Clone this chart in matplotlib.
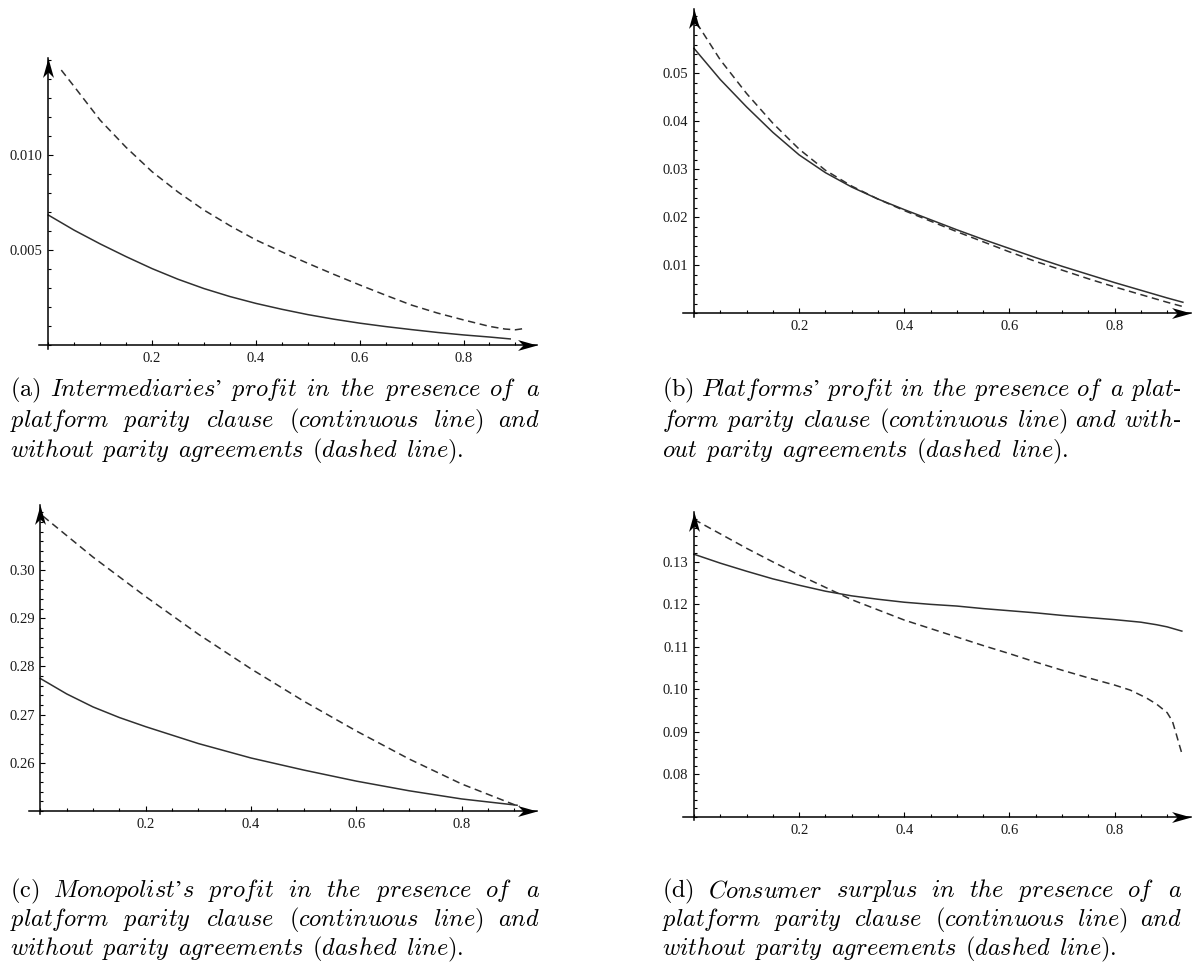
import matplotlib
matplotlib.use("Agg")
import matplotlib.pyplot as plt
from matplotlib.path import Path
from matplotlib.ticker import FixedLocator, FixedFormatter, MultipleLocator

plt.rcParams["mathtext.fontset"] = "cm"

# (a) intermediaries' profit
a_x_par = [0.0, 0.05, 0.1, 0.15, 0.2, 0.25, 0.3, 0.35, 0.4, 0.45, 0.5, 0.55, 0.6, 0.65, 0.7, 0.75, 0.8, 0.85, 0.89]
a_y_par = [0.00684, 0.00604, 0.00532, 0.00465, 0.00402, 0.00346, 0.00297, 0.00255, 0.00219, 0.00188, 0.00160,
           0.00136, 0.00115, 0.00097, 0.00081, 0.00066, 0.00053, 0.00042, 0.00032]
a_x_nopar = [0.025, 0.05, 0.1, 0.15, 0.2, 0.25, 0.3, 0.35, 0.4, 0.45, 0.5, 0.55, 0.6, 0.65, 0.7, 0.75, 0.8, 0.85,
             0.88, 0.9, 0.92]
a_y_nopar = [0.01447, 0.0136, 0.01183, 0.0104, 0.00912, 0.00805, 0.0071, 0.00628, 0.00553, 0.0049, 0.0043,
             0.00372, 0.00316, 0.00262, 0.0021, 0.00168, 0.00132, 0.00098, 0.00084, 0.0008, 0.00088]

# (b) platforms' profit
b_x_par = [0.0, 0.05, 0.1, 0.15, 0.2, 0.25, 0.3, 0.35, 0.4, 0.45, 0.5, 0.55, 0.6, 0.65, 0.7, 0.75, 0.8, 0.85, 0.9, 0.93]
b_y_par = [0.0552, 0.0487, 0.0430, 0.0377, 0.0330, 0.0293, 0.0263, 0.0238, 0.0216, 0.0195, 0.0174, 0.0154,
           0.0135, 0.0116, 0.0098, 0.0081, 0.0064, 0.0048, 0.0032, 0.0023]
b_x_nopar = [0.005, 0.05, 0.1, 0.15, 0.2, 0.25, 0.3, 0.35, 0.4, 0.45, 0.5, 0.55, 0.6, 0.65, 0.7, 0.75, 0.8, 0.85,
             0.9, 0.93]
b_y_nopar = [0.0605, 0.0528, 0.0458, 0.0396, 0.0342, 0.0298, 0.0265, 0.0238, 0.0214, 0.0192, 0.0170, 0.0149,
             0.0128, 0.0108, 0.0090, 0.0072, 0.0055, 0.0039, 0.0023, 0.0014]

# (c) monopolist's profit
c_x_par = [0.0, 0.05, 0.1, 0.15, 0.2, 0.3, 0.4, 0.5, 0.6, 0.7, 0.8, 0.905]
c_y_par = [0.2775, 0.2743, 0.2716, 0.2694, 0.2675, 0.2640, 0.2610, 0.2585, 0.2562, 0.2542, 0.2525, 0.2512]
c_x_nopar = [0.005, 0.1, 0.2, 0.3, 0.4, 0.5, 0.6, 0.7, 0.8, 0.9, 0.91]
c_y_nopar = [0.3112, 0.3027, 0.2945, 0.2867, 0.2795, 0.2728, 0.2666, 0.2608, 0.2556, 0.2513, 0.2510]

# (d) consumer surplus
d_x_par = [0.0, 0.05, 0.1, 0.15, 0.2, 0.25, 0.3, 0.35, 0.4, 0.45, 0.5, 0.55, 0.6, 0.65, 0.7, 0.75, 0.8, 0.85,
           0.88, 0.9, 0.928]
d_y_par = [0.1318, 0.1297, 0.1278, 0.1260, 0.1245, 0.1231, 0.1220, 0.1212, 0.1205, 0.1200, 0.1196, 0.1190,
           0.1185, 0.1180, 0.1174, 0.1169, 0.1164, 0.1158, 0.1152, 0.1147, 0.1137]
d_x_nopar = [0.0, 0.05, 0.1, 0.15, 0.2, 0.25, 0.3, 0.35, 0.4, 0.45, 0.5, 0.55, 0.6, 0.65, 0.7, 0.75, 0.8, 0.83,
             0.86, 0.88, 0.9, 0.91, 0.917, 0.923, 0.928]
d_y_nopar = [0.1400, 0.1366, 0.1332, 0.1300, 0.1269, 0.1240, 0.1211, 0.1187, 0.1163, 0.1143, 0.1123, 0.1103,
             0.1084, 0.1064, 0.1045, 0.1027, 0.1010, 0.0998, 0.0980, 0.0965, 0.0945, 0.0925, 0.0896, 0.0870, 0.0849]

x_ticks = [0.2, 0.4, 0.6, 0.8]
x_ticklabels = ["0.2", "0.4", "0.6", "0.8"]
a_yticks = [0.005, 0.010]
a_yticklabels = ["0.005", "0.010"]
b_yticks = [0.01, 0.02, 0.03, 0.04, 0.05]
b_yticklabels = ["0.01", "0.02", "0.03", "0.04", "0.05"]
c_yticks = [0.26, 0.27, 0.28, 0.29, 0.30]
c_yticklabels = ["0.26", "0.27", "0.28", "0.29", "0.30"]
d_yticks = [0.08, 0.09, 0.10, 0.11, 0.12, 0.13]
d_yticklabels = ["0.08", "0.09", "0.10", "0.11", "0.12", "0.13"]

line2 = ["platform", "parity", "clause", "(continuous", "line)", "and"]
line3 = ["without", "parity", "agreements", "(dashed", "line)."]
a_caption = [["(a)", "Intermediaries’", "profit", "in", "the", "presence", "of", "a"], line2, line3]
b_caption = [["(b)", "Platforms’", "profit", "in", "the", "presence", "of", "a", "plat‐"],
             ["form", "parity", "clause", "(continuous", "line)", "and", "with‐"],
             ["out", "parity", "agreements", "(dashed", "line)."]]
c_caption = [["(c)", "Monopolist’s", "profit", "in", "the", "presence", "of", "a"], line2, line3]
d_caption = [["(d)", "Consumer", "surplus", "in", "the", "presence", "of", "a"], line2, line3]

W, H = 1193, 968
CAP_SIZE = 17.5
CURVE = "#303030"

fig = plt.figure(figsize=(W / 100, H / 100), dpi=100)

right_head = Path([(0, 0), (-1, 0.28), (-0.72, 0), (-1, -0.28), (0, 0)],
                  [Path.MOVETO, Path.LINETO, Path.LINETO, Path.LINETO, Path.CLOSEPOLY])
up_head = Path([(0, 0), (0.28, -1), (0, -0.72), (-0.28, -1), (0, 0)],
               [Path.MOVETO, Path.LINETO, Path.LINETO, Path.LINETO, Path.CLOSEPOLY])


def add_panel(ox, oy, sx, sy, y0, xlim, ylim, yticks, ylabels, yminor):
    # ox, oy: pixel of the origin; sx, sy: pixels per unit
    left = ox + sx * xlim[0]
    right = ox + sx * xlim[1]
    top = oy - sy * (ylim[1] - y0)
    bottom = oy - sy * (ylim[0] - y0)
    ax = fig.add_axes([left / W, 1 - bottom / H, (right - left) / W, (bottom - top) / H])
    ax.set_xlim(xlim)
    ax.set_ylim(ylim)
    ax.patch.set_visible(False)
    for s in ("top", "right"):
        ax.spines[s].set_visible(False)
    ax.spines["left"].set_position(("data", 0))
    ax.spines["bottom"].set_position(("data", y0))
    for s in ("left", "bottom"):
        ax.spines[s].set_linewidth(1.1)
        ax.spines[s].set_color("black")
    ax.xaxis.set_major_locator(FixedLocator(x_ticks))
    ax.xaxis.set_major_formatter(FixedFormatter(x_ticklabels))
    ax.xaxis.set_minor_locator(MultipleLocator(0.05))
    ax.yaxis.set_major_locator(FixedLocator(yticks))
    ax.yaxis.set_major_formatter(FixedFormatter(ylabels))
    ax.yaxis.set_minor_locator(MultipleLocator(yminor))
    ax.tick_params(which="both", direction="in", color="black", width=0.8)
    ax.tick_params(which="major", length=3.8)
    ax.tick_params(which="minor", length=2.0)
    ax.tick_params(axis="x", pad=5)
    ax.tick_params(axis="y", pad=4)
    for lab in ax.get_xticklabels() + ax.get_yticklabels():
        lab.set_fontfamily("Liberation Serif")
        lab.set_fontsize(10.5)
        lab.set_color("#1a1a1a")
    ax.plot([xlim[1]], [y0], marker=right_head, ms=28, color="black", mew=0, clip_on=False, zorder=5)
    ax.plot([0], [ylim[1]], marker=up_head, ms=28, color="black", mew=0, clip_on=False, zorder=5)
    return ax


def draw_curves(ax, xp, yp, xn, yn):
    ax.plot(xp, yp, color=CURVE, lw=1.1, solid_joinstyle="round")
    ax.plot(xn, yn, color=CURVE, lw=1.1, linestyle=(0, (4.8, 3.0)))


def caption(x0, x1, baselines, lines):
    r = fig.canvas.get_renderer()
    texts = []
    for i, (words, yb) in enumerate(zip(lines, baselines)):
        row = []
        for j, w in enumerate(words):
            s = r"$\mathrm{" + w + "}$" if (i == 0 and j == 0) else r"$\mathit{" + w + "}$"
            row.append(fig.text(0, 1 - yb / H, s, fontsize=CAP_SIZE, va="baseline", ha="left"))
        texts.append(row)
    # shrink the caption if a justified line would not fit with a normal word gap
    em = CAP_SIZE * 100 / 72
    scale = 1.0
    for row in texts[:-1]:
        need = sum(t.get_window_extent(r).width for t in row) + 0.25 * em * (len(row) - 1)
        scale = min(scale, (x1 - x0) / need)
    if scale < 1.0:
        for row in texts:
            for t in row:
                t.set_fontsize(CAP_SIZE * scale)
    for i, row in enumerate(texts):
        widths = [t.get_window_extent(r).width for t in row]
        if i == len(texts) - 1:
            gap = 0.33 * em * scale
        else:
            gap = (x1 - x0 - sum(widths)) / (len(row) - 1)
        x = x0
        for t, w in zip(row, widths):
            t.set_x(x / W)
            x += w + gap


ax_a = add_panel(48.3, 345, 519, 19000, 0.0, (-0.0185, 0.941), (-0.0002, 0.0151),
                 a_yticks, a_yticklabels, 0.001)
draw_curves(ax_a, a_x_par, a_y_par, a_x_nopar, a_y_nopar)

ax_b = add_panel(694, 313.3, 525.7, 4800, 0.0, (-0.0216, 0.945), (-0.0007, 0.0635),
                 b_yticks, b_yticklabels, 0.002)
draw_curves(ax_b, b_x_par, b_y_par, b_x_nopar, b_y_nopar)

ax_c = add_panel(40.4, 811, 526.7, 4817, 0.25, (-0.0224, 0.943), (0.2493, 0.3135),
                 c_yticks, c_yticklabels, 0.002)
draw_curves(ax_c, c_x_par, c_y_par, c_x_nopar, c_y_nopar)

ax_d = add_panel(694, 816.7, 525.7, 4247, 0.07, (-0.0216, 0.946), (0.0693, 0.1418),
                 d_yticks, d_yticklabels, 0.002)
draw_curves(ax_d, d_x_par, d_y_par, d_x_nopar, d_y_nopar)

caption(9.6, 540, [396, 427, 457], a_caption)
caption(662.5, 1182, [396, 427, 457], b_caption)
caption(9.6, 540, [897, 926, 955], c_caption)
caption(662.5, 1182, [897, 926, 955], d_caption)

fig.savefig("out.png", dpi=100)
